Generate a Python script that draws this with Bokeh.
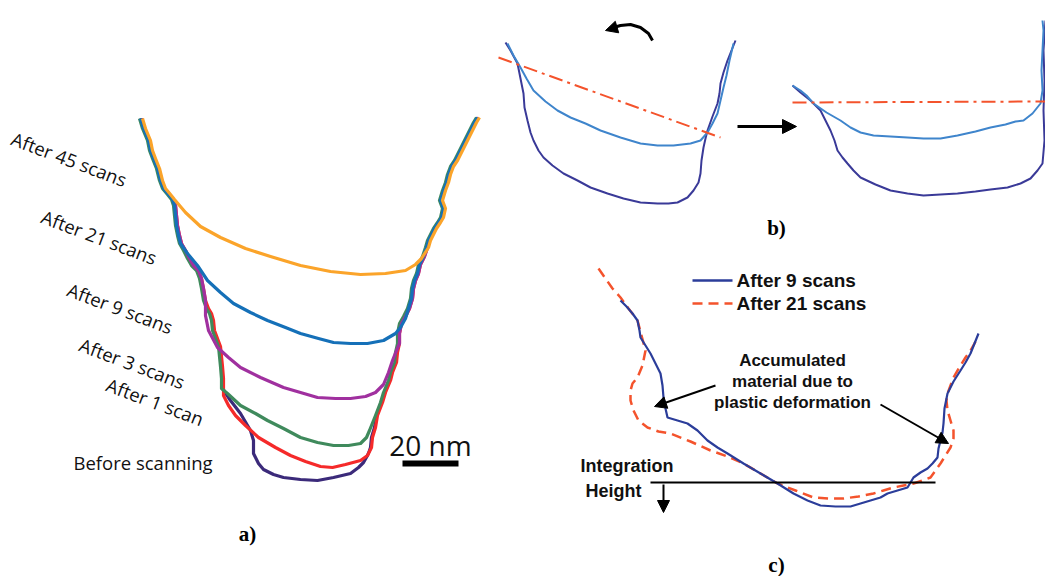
from bokeh.plotting import figure
from bokeh.models import Range1d, Arrow, NormalHead
from bokeh.core.properties import value
from bokeh.embed import file_html
from bokeh.resources import INLINE

# ---------------- Panel a: profiles (image-pixel units) ----------------
wall_left_x = [140, 143, 148, 150, 153, 157, 160, 163, 168, 172, 174, 175, 176, 178, 180, 184, 188, 192, 197, 200, 202, 204, 207, 210, 212, 213, 216, 219, 220, 221, 222, 222]
wall_left_y = [118, 128, 140, 150, 158, 168, 180, 188, 194, 199, 205, 215, 225, 235, 243, 250, 258, 265, 270, 278, 288, 300, 308, 313, 320, 330, 338, 346, 356, 366, 378, 388]
wall_right_x = [370, 371, 374, 376, 381, 384, 389, 391, 395, 396, 398, 398, 400, 404, 408, 411, 412, 414, 417, 419, 423, 426, 428, 431, 434, 438, 441, 443, 440, 443, 446, 448, 451, 455, 460, 465, 470, 474, 477]
wall_right_y = [447, 437, 427, 415, 402, 392, 380, 372, 362, 352, 343, 333, 323, 316, 308, 298, 288, 280, 273, 264, 256, 247, 240, 234, 228, 222, 217, 208, 200, 190, 182, 174, 166, 160, 150, 140, 130, 122, 117]

bottom_45_x = [185, 200, 220, 245, 270, 300, 330, 360, 385, 405, 415, 421]
bottom_45_y = [212, 226, 237, 248, 256, 265, 271, 274, 273, 270, 264, 258]
bottom_21_x = [187, 197, 207, 220, 233, 250, 267, 285, 300, 318, 333, 350, 367, 383, 395, 400, 405]
bottom_21_y = [253, 265, 280, 292, 303, 312, 320, 327, 333, 338, 342, 343, 343, 340, 333, 327, 318]
bottom_9_x = [205, 208, 217, 228, 240, 260, 283, 300, 317, 335, 350, 365, 375, 383, 388, 392, 396]
bottom_9_y = [315, 330, 347, 357, 367, 377, 387, 392, 397, 398, 398, 396, 392, 384, 372, 360, 350]
bottom_3_x = [227, 240, 255, 267, 283, 300, 317, 333, 348, 360, 366, 369]
bottom_3_y = [393, 405, 413, 420, 428, 437, 442, 445, 445, 443, 437, 430]
bottom_1_x = [223, 228, 235, 245, 258, 275, 290, 305, 320, 332, 345, 360, 367]
bottom_1_y = [395, 405, 415, 425, 437, 447, 455, 461, 466, 467, 464, 460, 455]
bottom_0_x = [230, 240, 250, 253, 253, 258, 263, 273, 283, 300, 317, 333, 350, 358, 363, 367, 369]
bottom_0_y = [400, 413, 430, 440, 453, 463, 469, 474, 477, 479, 480, 477, 473, 467, 462, 455, 450]

labels_a = ["After 45 scans", "After 21 scans", "After 9 scans", "After 3 scans", "After 1 scan"]
labels_a_x = [12, 42, 68, 80, 107]
labels_a_y = [137, 215, 288, 343, 383]

# ---------------- Panel b ----------------
b_left_dark_x = [505, 510, 517, 520, 523, 524, 527, 530, 533, 538, 543, 552, 563, 577, 590, 607, 623, 640, 657, 668, 677, 687, 693, 698, 700, 701, 703, 705, 707, 712, 717, 719, 720, 723, 727, 731, 735]
b_left_dark_y = [42, 50, 63, 78, 93, 107, 120, 132, 140, 150, 157, 165, 173, 180, 187, 193, 198, 202, 203, 203, 202, 197, 190, 182, 173, 160, 147, 138, 130, 116, 103, 93, 83, 72, 60, 50, 40]
b_left_light_x = [507, 513, 520, 526, 533, 545, 557, 570, 585, 600, 620, 640, 657, 673, 690, 700, 707, 712, 717, 720, 723, 726, 729, 733]
b_left_light_y = [43, 55, 67, 78, 90, 101, 110, 117, 123, 130, 137, 143, 145, 145, 143, 140, 132, 123, 113, 100, 87, 75, 60, 43]
b_left_cut_x = [498, 720]
b_left_cut_y = [57, 137]
b_right_light_x = [792, 800, 806, 813, 826, 840, 850, 860, 873, 890, 907, 923, 940, 957, 975, 990, 1005, 1015, 1023, 1032, 1040, 1042, 1041, 1042, 1043, 1042]
b_right_light_y = [85, 90, 95, 103, 112, 120, 127, 132, 135, 136, 137, 138, 138, 135, 131, 127, 124, 121, 120, 113, 103, 90, 70, 50, 30, 20]
b_right_dark_x = [792, 800, 810, 820, 825, 830, 834, 837, 842, 847, 853, 860, 875, 890, 907, 923, 940, 957, 975, 990, 1007, 1020, 1030, 1037, 1042, 1044, 1043, 1044, 1043, 1045]
b_right_dark_y = [85, 92, 100, 110, 120, 130, 140, 150, 157, 163, 170, 177, 184, 190, 193, 195, 194, 193, 191, 189, 187, 183, 178, 170, 163, 140, 110, 80, 50, 20]
b_right_cut_x = [792, 1045]
b_right_cut_y = [102, 101]
b_turn_x = [652, 648, 640, 630, 620, 613]
b_turn_y = [40, 33, 27, 24, 25, 27]

# ---------------- Panel c ----------------
c_9_x = [620, 626, 632, 637, 639, 640, 645, 650, 655, 660, 662, 663, 665, 667, 677, 687, 697, 707, 717, 727, 743, 760, 777, 793, 807, 820, 835, 850, 860, 870, 880, 887, 897, 907, 910, 913, 920, 927, 932, 937, 938, 940, 942, 943, 944, 947, 953, 960, 965, 970, 974, 978]
c_9_y = [300, 306, 313, 320, 330, 337, 345, 353, 363, 373, 385, 397, 408, 417, 420, 423, 430, 440, 447, 453, 463, 473, 483, 493, 500, 505, 506, 506, 503, 500, 497, 493, 490, 487, 482, 477, 472, 468, 463, 457, 448, 440, 432, 423, 408, 393, 381, 370, 362, 353, 343, 333]
c_21_x = [598, 605, 612, 620, 628, 637, 641, 645, 642, 637, 632, 630, 630, 633, 638, 647, 658, 670, 690, 710, 727, 743, 760, 777, 795, 813, 828, 843, 858, 873, 883, 893, 903, 913, 922, 930, 935, 940, 945, 950, 953, 953, 950, 947, 946, 947, 950, 953, 960, 965, 970, 974, 977]
c_21_y = [268, 278, 288, 297, 308, 320, 335, 350, 365, 377, 383, 390, 400, 410, 420, 427, 431, 433, 441, 450, 456, 463, 473, 483, 490, 497, 498, 498, 496, 493, 490, 487, 485, 483, 480, 477, 470, 463, 455, 447, 438, 430, 420, 410, 400, 393, 385, 377, 365, 357, 350, 343, 337]
c_base_x = [650, 935]
c_base_y = [482, 482]

BLUE_C = "#2b3d9a"
RED_C = "#f4532c"

p = figure(width=1045, height=576, x_range=Range1d(0, 1045), y_range=Range1d(576, 0),
           output_backend="svg", toolbar_location=None, x_axis_type=None, y_axis_type=None,
           min_border=0)
p.grid.visible = False
p.outline_line_color = None
p.background_fill_color = "white"

def join(bx, by, y_leave, y_join, dx=0):
    xs = [x + dx for x, y in zip(wall_left_x, wall_left_y) if y < y_leave] + bx
    ys = [y for y in wall_left_y if y < y_leave] + by
    xs += [x + dx for x, y in zip(wall_right_x, wall_right_y) if y <= y_join]
    ys += [y for y in wall_right_y if y <= y_join]
    return xs, ys

curves = [
    (bottom_0_x, bottom_0_y, 395, 447, 0, "#3b2a7a"),
    (bottom_1_x, bottom_1_y, 392, 447, 1, "#f52a2a"),
    (bottom_3_x, bottom_3_y, 392, 425, -1, "#3f8a5c"),
    (bottom_9_x, bottom_9_y, 305, 345, 1, "#a0309f"),
    (bottom_21_x, bottom_21_y, 250, 305, 0, "#1570b8"),
    (bottom_45_x, bottom_45_y, 205, 255, 2, "#fba42a"),
]
for bx, by, yl, yj, dx, col in curves:
    xs, ys = join(bx, by, yl, yj, dx)
    p.line(xs, ys, line_color=col, line_width=3.2, line_join="round")

p.text(x=labels_a_x, y=labels_a_y, text=labels_a, angle=-0.36,
       text_font=value("Open Sans"), text_font_size="18.5px", text_align="left",
       text_baseline="middle", text_color="#111111")
p.text(x=[73], y=[462], text=["Before scanning"], text_font=value("Open Sans"),
       text_font_size="18.5px", text_align="left", text_baseline="middle", text_color="#111111")
p.text(x=[430], y=[444], text=["20 nm"], text_font=value("Open Sans"),
       text_font_size="28px", text_align="center", text_baseline="middle", text_color="#111111")
p.line([402, 458], [463, 463], line_color="black", line_width=6)

# panel b
p.line(b_left_dark_x, b_left_dark_y, line_color="#3a3a98", line_width=2)
p.line(b_left_light_x, b_left_light_y, line_color="#3f85cc", line_width=2)
p.line(b_left_cut_x, b_left_cut_y, line_color=RED_C, line_width=2, line_dash="14 5 3 5")
p.line(b_right_dark_x, b_right_dark_y, line_color="#3a3a98", line_width=2)
p.line(b_right_light_x, b_right_light_y, line_color="#3f85cc", line_width=2)
p.line(b_right_cut_x, b_right_cut_y, line_color=RED_C, line_width=2, line_dash="14 5 3 5")
p.line(b_turn_x, b_turn_y, line_color="black", line_width=3)
p.add_layout(Arrow(end=NormalHead(size=12, fill_color="black", line_color="black"),
                   x_start=615, y_start=27, x_end=605, y_end=30, line_width=3))
p.add_layout(Arrow(end=NormalHead(size=14, fill_color="black", line_color="black"),
                   x_start=737, y_start=126, x_end=796, y_end=126, line_width=3))

# panel c
p.line(c_21_x, c_21_y, line_color=RED_C, line_width=2.5, line_dash="10 6")
p.line(c_9_x, c_9_y, line_color=BLUE_C, line_width=2.2)
p.line(c_base_x, c_base_y, line_color="black", line_width=2)
p.line([692, 732], [280, 280], line_color=BLUE_C, line_width=2.5)
p.line([692, 732], [303, 303], line_color=RED_C, line_width=2.5, line_dash="10 6")
p.text(x=[736, 736], y=[280, 303], text=["After 9 scans", "After 21 scans"],
       text_font=value("Liberation Sans"), text_font_style="bold", text_font_size="19px",
       text_align="left", text_baseline="middle", text_color="#111111")
p.text(x=[792, 792, 792], y=[360, 381, 402],
       text=["Accumulated", "material due to", "plastic deformation"],
       text_font=value("Liberation Sans"), text_font_style="bold", text_font_size="17px",
       text_align="center", text_baseline="middle", text_color="#111111")
p.text(x=[580, 585], y=[465, 490], text=["Integration", "Height"],
       text_font=value("Liberation Sans"), text_font_style="bold", text_font_size="18px",
       text_align="left", text_baseline="middle", text_color="#111111")
for xs_, ys_, xe_, ye_ in [(715, 385, 654, 406), (880, 404, 948, 443), (663, 484, 663, 512)]:
    p.add_layout(Arrow(end=NormalHead(size=12, fill_color="black", line_color="black"),
                       x_start=xs_, y_start=ys_, x_end=xe_, y_end=ye_, line_width=2))

# panel letters
p.text(x=[247, 776, 776], y=[533, 227, 564], text=["a)", "b)", "c)"],
       text_font=value("Liberation Serif"), text_font_style="bold", text_font_size="21px",
       text_align="center", text_baseline="middle", text_color="black")

open("out.html", "w").write(file_html(p, INLINE))
